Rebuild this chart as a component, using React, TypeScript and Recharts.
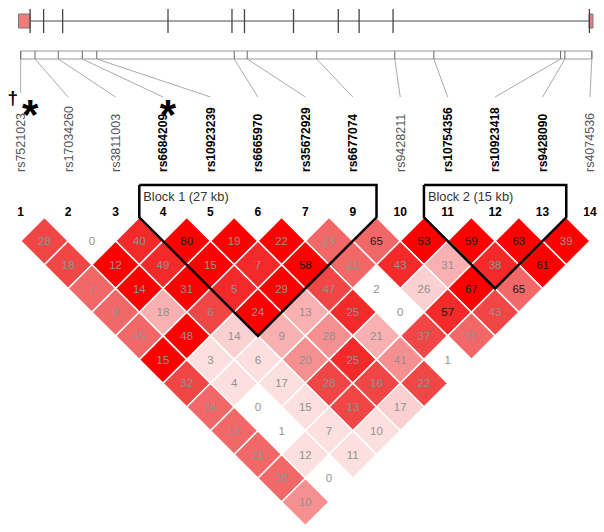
import { ScatterChart, Scatter, XAxis, YAxis, ReferenceLine, ReferenceArea } from "recharts";

// markers shown in the LD plot (marker 8 was dropped)
const markerNumbers = ["1", "2", "3", "4", "5", "6", "7", "9", "10", "11", "12", "13", "14"];
const snpNames = [
  "rs7521023", "rs17034260", "rs3811003", "rs6684209", "rs10923239", "rs6665970", "rs35672929",
  "rs6677074", "rs9428211", "rs10754356", "rs10923418", "rs9428090", "rs4074536",
];
const snpBold = [false, false, false, true, true, true, true, true, false, true, true, true, false];
const snpNotes = ["†*", "", "", "*", "", "", "", "", "", "", "", "", ""];
// physical positions (kb from first SNP)
const snpPositionKb = [0, 1.65, 4.33, 7.1, 8.76, 24.6, 26.1, 34.1, 43.1, 47.6, 62.2, 62.7, 65.8];
const exonKb = [1.08, 2.64, 4.83, 16.97, 24.34, 25.78, 31.43, 36.59, 38.99, 42.9, 65.52];
const utrStartKb = [-0.25, 65.47];
const utrEndKb = [1.08, 65.93];

const blockNames = ["Block 1 (27 kb)", "Block 2 (15 kb)"];
const blockFirst = [3, 9];
const blockLast = [7, 11];

// LD values by marker distance (row 1 = adjacent pairs)
const ldValues = [
  [28, 0, 40, 80, 19, 22, 23, 65, 53, 59, 63, 39],
  [18, 12, 49, 15, 7, 58, 21, 43, 31, 38, 61],
  [7, 14, 31, 5, 29, 47, 2, 26, 67, 65],
  [9, 18, 6, 24, 13, 25, 0, 57, 43],
  [45, 48, 14, 9, 28, 21, 37, 31],
  [15, 3, 6, 20, 25, 41, 1],
  [32, 4, 17, 28, 16, 22],
  [24, 0, 15, 13, 17],
  [13, 1, 7, 10],
  [21, 12, 11],
  [38, 0],
  [10],
];
const ldShades = [
  ["r2", "W", "r1", "R", "R", "R", "r3", "r3", "R", "R", "R", "R"],
  ["r2", "R", "r1", "R", "r1", "R", "r3", "r1", "p2", "r1", "R"],
  ["r3", "R", "R", "r1", "R", "r2", "W", "p3", "R", "r3"],
  ["r3", "p2", "r2", "R", "p2", "r1", "W", "r1", "r2"],
  ["r3", "R", "p3", "p2", "p1", "p2", "r2", "r3"],
  ["R", "p4", "p4", "p1", "r1", "p1", "W"],
  ["r2", "p4", "p4", "r2", "r2", "r2"],
  ["r3", "W", "p4", "r2", "p3"],
  ["r3", "W", "p4", "p4"],
  ["r3", "p4", "p4"],
  ["r3", "W"],
  ["p1"],
];
const shadeColors = {
  R: "#FF0000",
  r1: "#F42A2A",
  r2: "#F04646",
  r3: "#F26868",
  p1: "#F69090",
  p2: "#F8B0B0",
  p3: "#FAD0D0",
  p4: "#FCE0E0",
  W: "#FFFFFF",
};

// layout
const W = 604;
const H = 532;
const PX_PER_IDX = 47.44;
const PX_PER_KB = 8.68;
const ORIGIN_PX = 20.7;
const ROW_PX = 23.72;
const ROW1_PX = 241;
const X_MIN = -ORIGIN_PX / PX_PER_IDX;
const X_MAX = X_MIN + W / PX_PER_IDX;
const KB_MIN = -ORIGIN_PX / PX_PER_KB;
const KB_MAX = KB_MIN + W / PX_PER_KB;
const R_MIN = 1 - ROW1_PX / ROW_PX;
const R_MAX = R_MIN + H / ROW_PX;
const KB_PER_IDX = PX_PER_IDX / PX_PER_KB;
const HX = PX_PER_IDX / 2;
const HY = ROW_PX;
const FONT = "Arial, 'Liberation Sans', sans-serif";

const GENE_Y = 21;
const STRIP_TOP = 51;
const STRIP_BOTTOM = 59;
const LINK_END = 97;
const NAME_Y = 172;
const BOX_TOP_PX = 185;
const BLOCK_LABEL_Y = 196;
const NUMBER_Y = 212;
const BOX_TOP = 1 + (BOX_TOP_PX - ROW1_PX) / ROW_PX;

const cells = ldValues.flatMap((row, r) =>
  row.map((value, i) => ({
    x: i + (r + 1) / 2,
    y: r + 1,
    value,
    color: shadeColors[ldShades[r][i]],
  }))
);

const markerRow = markerNumbers.map((label, i) => ({ x: i, y: NUMBER_Y, label }));
const nameRow = snpNames.map((name, i) => ({ x: i, y: NAME_Y, name, bold: snpBold[i], note: snpNotes[i] }));
const blockLabels = blockNames.map((name, b) => ({ x: blockFirst[b] - 0.5, y: BLOCK_LABEL_Y, name }));
const blockOutlines = blockNames.map((_, b) => {
  const l = blockFirst[b] - 0.5;
  const r = blockLast[b] + 0.5;
  return [
    { x: l, y: BOX_TOP },
    { x: r, y: BOX_TOP },
    { x: r, y: 0 },
    { x: (blockFirst[b] + blockLast[b]) / 2, y: blockLast[b] - blockFirst[b] + 1 },
    { x: l, y: 0 },
    { x: l, y: BOX_TOP },
  ];
});

const Diamond = (p: any) => {
  const { cx, cy, payload } = p;
  return (
    <g>
      <polygon
        points={`${cx},${cy - HY} ${cx + HX},${cy} ${cx},${cy + HY} ${cx - HX},${cy}`}
        fill={payload.color}
        stroke="#fff"
        strokeWidth={1.5}
      />
      <text
        x={cx}
        y={cy}
        dy="0.36em"
        textAnchor="middle"
        fontSize={11.5}
        fontFamily={FONT}
        fill={payload.value >= 50 ? "#1a1a1a" : "#929292"}
      >
        {payload.value}
      </text>
    </g>
  );
};

const MarkerNumber = (p: any) => (
  <text x={p.cx} y={p.cy} dy="0.36em" textAnchor="middle" fontSize={12} fontWeight="bold" fontFamily={FONT} fill="#000">
    {p.payload.label}
  </text>
);

const SnpName = (p: any) => {
  const { cx, cy, payload } = p;
  const hasDagger = payload.note.includes("†");
  const hasStar = payload.note.includes("*");
  return (
    <g>
      <text
        x={cx}
        y={cy}
        dy="0.36em"
        transform={`rotate(-90 ${cx} ${cy})`}
        fontSize={payload.bold ? 12 : 12.5}
        fontWeight={payload.bold ? "bold" : "normal"}
        fontFamily={FONT}
        fill={payload.bold ? "#000" : "#555"}
      >
        {payload.name}
      </text>
      {hasDagger && (
        <text x={cx - 8} y={104} textAnchor="middle" fontSize={19} fontWeight="bold" fontFamily={FONT} fill="#000">
          †
        </text>
      )}
      {hasStar && (
        <text
          x={cx + (hasDagger ? 9.5 : 5)}
          y={129}
          textAnchor="middle"
          fontSize={42}
          fontWeight="bold"
          fontFamily={FONT}
          fill="#000"
        >
          *
        </text>
      )}
    </g>
  );
};

const BlockLabel = (p: any) => (
  <text x={p.cx + 4} y={p.cy} dy="0.36em" fontSize={12.8} fontFamily={FONT} fill="#333">
    {p.payload.name}
  </text>
);

export default function App() {
  return (
    <div style={{ position: "absolute", left: 0, top: 0, width: W, height: H, background: "#fff" }}>
      <ScatterChart width={W} height={H} margin={{ top: 0, right: 0, bottom: 0, left: 0 }}>
        <XAxis xAxisId="idx" type="number" dataKey="x" domain={[X_MIN, X_MAX]} allowDataOverflow hide />
        <XAxis xAxisId="kb" type="number" dataKey="x" domain={[KB_MIN, KB_MAX]} allowDataOverflow hide />
        <YAxis yAxisId="row" type="number" dataKey="y" domain={[R_MIN, R_MAX]} reversed allowDataOverflow hide />
        <YAxis yAxisId="px" type="number" dataKey="y" domain={[0, H]} reversed allowDataOverflow hide />

        {/* gene structure */}
        <ReferenceLine
          xAxisId="kb"
          yAxisId="px"
          segment={[{ x: utrEndKb[0], y: GENE_Y }, { x: utrStartKb[1], y: GENE_Y }]}
          stroke="#888"
          strokeWidth={1.5}
        />
        {exonKb.map((k, i) => (
          <ReferenceLine
            key={"ex" + i}
            xAxisId="kb"
            yAxisId="px"
            segment={[{ x: k, y: 9 }, { x: k, y: 33 }]}
            stroke="#444"
            strokeWidth={1.3}
          />
        ))}
        {utrStartKb.map((k, i) => (
          <ReferenceArea
            key={"utr" + i}
            xAxisId="kb"
            yAxisId="px"
            x1={k}
            x2={utrEndKb[i]}
            y1={14}
            y2={28}
            fill="#F07C7C"
            fillOpacity={1}
            stroke="#777"
            strokeWidth={1}
          />
        ))}

        {/* SNP position strip */}
        <ReferenceArea
          xAxisId="kb"
          yAxisId="px"
          x1={snpPositionKb[0]}
          x2={snpPositionKb[snpPositionKb.length - 1]}
          y1={STRIP_TOP}
          y2={STRIP_BOTTOM}
          fill="#fff"
          fillOpacity={1}
          stroke="#999"
          strokeWidth={1}
        />
        {snpPositionKb.map((k, i) => (
          <ReferenceLine
            key={"tick" + i}
            xAxisId="kb"
            yAxisId="px"
            segment={[{ x: k, y: STRIP_TOP }, { x: k, y: STRIP_BOTTOM }]}
            stroke="#666"
            strokeWidth={1}
          />
        ))}
        {snpPositionKb.map((k, i) => (
          <ReferenceLine
            key={"link" + i}
            xAxisId="kb"
            yAxisId="px"
            segment={[{ x: k, y: STRIP_BOTTOM }, { x: i * KB_PER_IDX, y: i === 0 ? LINK_END - 4 : LINK_END }]}
            stroke="#aaa"
            strokeWidth={1}
          />
        ))}

        <Scatter xAxisId="idx" yAxisId="px" data={nameRow} shape={SnpName} isAnimationActive={false} />
        <Scatter xAxisId="idx" yAxisId="px" data={markerRow} shape={MarkerNumber} isAnimationActive={false} />
        <Scatter xAxisId="idx" yAxisId="row" data={cells} shape={Diamond} isAnimationActive={false} />
        {blockOutlines.map((pts, b) => (
          <Scatter
            key={"blk" + b}
            xAxisId="idx"
            yAxisId="row"
            data={pts}
            line={{ stroke: "#000", strokeWidth: 2.5 }}
            shape={() => <g />}
            isAnimationActive={false}
          />
        ))}
        <Scatter xAxisId="idx" yAxisId="px" data={blockLabels} shape={BlockLabel} isAnimationActive={false} />
      </ScatterChart>
    </div>
  );
}
